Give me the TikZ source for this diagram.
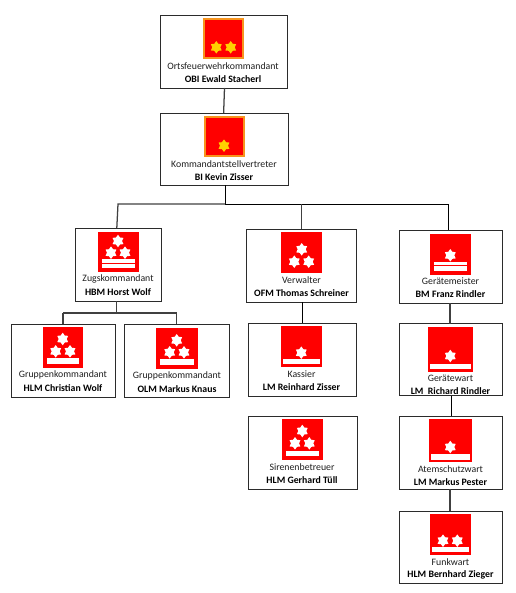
\documentclass[tikz,border=0pt]{standalone}
\usepackage{fontspec}
\setmainfont{Carlito}
\usetikzlibrary{shapes.geometric}
\definecolor{rangred}{HTML}{FF0000}
\definecolor{rangorange}{HTML}{F7941D}
\definecolor{ranggold}{HTML}{FFD000}
\definecolor{boxline}{HTML}{2B2B2B}
\definecolor{stemgray}{HTML}{404040}
\tikzset{
  x=0.75pt,y=-0.75pt,
  orgbox/.style={draw=boxline,line width=0.75pt,fill=white,inner sep=0pt,outer sep=0pt},
  rangbadge/.style={fill=rangred,inner sep=0pt,outer sep=0pt},
  goldbadge/.style={fill=rangred,draw=rangorange,line width=1.1pt,inner sep=0pt,outer sep=0pt},
  rangstar/.style={star,star points=6,star point ratio=1.55,fill=white,inner sep=0pt,outer sep=0pt,minimum size=9.4pt},
  goldstar/.style={rangstar,fill=ranggold},
  rangbar/.style={fill=white,inner sep=0pt,outer sep=0pt},
  funktion/.style={text=black!88,font=\fontsize{7.35}{9}\selectfont,inner sep=0pt},
  rangname/.style={text=black,font=\fontsize{7.35}{9}\selectfont\bfseries,inner sep=0pt},
  stemA/.style={draw=stemgray,line width=0.95pt},
  stemB/.style={draw=black,line width=0.7pt},
}
% name, x1, y1, x2, y2
\newcommand{\orgbox}[5]{\node[orgbox,minimum width=#4pt*0.75-#2pt*0.75,minimum height=#5pt*0.75-#3pt*0.75] (#1) at ({(#2+#4)/2},{(#3+#5)/2}) {};}
\newcommand{\badge}[6][rangbadge]{\node[#1,minimum width=#5pt*0.75-#3pt*0.75,minimum height=#6pt*0.75-#4pt*0.75] (#2) at ({(#3+#5)/2},{(#4+#6)/2}) {};}
\newcommand{\barr}[5]{\node[rangbar,minimum width=#4pt*0.75-#2pt*0.75,minimum height=#5pt*0.75-#3pt*0.75] (#1) at ({(#2+#4)/2},{(#3+#5)/2}) {};}
\newcommand{\sstar}[4][rangstar]{\node[#1] (#2) at (#3,#4) {};}
\newcommand{\labels}[6]{\node[funktion] (#1f) at (#2,#3) {#4}; \node[rangname] (#1n) at (#2,#5) {#6};}
\begin{document}
\begin{tikzpicture}
\useasboundingbox (0,0) rectangle (516,593);
% boxes
\orgbox{obi}{160}{15}{287}{88}
\orgbox{bi}{160.5}{113}{288}{185}
\orgbox{zug}{75}{228}{161}{301}
\orgbox{gra}{11}{324}{115}{397}
\orgbox{grb}{124.5}{324}{229}{397}
\orgbox{ver}{246}{229}{356}{302}
\orgbox{kas}{248}{323}{356}{396}
\orgbox{sir}{248.5}{416}{357}{489}
\orgbox{gme}{399}{230}{502}{303}
\orgbox{gwa}{399}{323.5}{502}{395.5}
\orgbox{atm}{399}{416}{502}{489}
\orgbox{fun}{399}{511}{502}{583}
% connectors
\coordinate (bus) at (225.3,204);
\coordinate (zugbus) at (116.8,313);
\draw[stemA] ([xshift=0.75pt]obi.south) -- ([xshift=0.1pt]obi.south |- bi.north);
\draw[stemB] (bus |- bi.south) -- (bus);
\draw[stemA] (bus) -- (bus -| zug.north) -- ([xshift=-0.9pt]zug.north);
\draw[stemB] (bus) -- (448,204) coordinate (busr) -- (busr |- gme.north);
\draw[stemA] (301.3,204) coordinate (busv) -- (busv |- ver.north);
\draw[stemA] (zugbus |- zug.south) -- (zugbus);
\draw[stemA] (zugbus -| gra.north) -- (zugbus -| grb.north);
\draw[stemA] (zugbus -| gra.north) -- (gra.north);
\draw[stemA] (zugbus -| grb.north) -- (grb.north);
\draw[stemB] ([xshift=0.4pt]ver.south -| kas.north) -- ([xshift=0.4pt]kas.north);
\draw[stemA] ([xshift=-0.3pt]gme.south) -- ([xshift=-0.3pt]gwa.north);
\draw[stemB] ([xshift=0.4pt]gwa.south) -- ([xshift=0.4pt]atm.north);
\draw[stemA] ([xshift=-0.3pt]atm.south) -- ([xshift=-0.3pt]fun.north);
% badges
\badge[goldbadge]{bobi}{204}{19}{243}{58}
\sstar[goldstar]{bobia}{216.3}{47.3}
\sstar[goldstar]{bobib}{230.7}{47.3}
\badge[goldbadge]{bbi}{205}{117}{244}{156}
\sstar[goldstar]{bbia}{224}{145.7}
%
\badge{bzug}{98}{232}{139}{272}
\sstar{bzuga}{118}{241}
\sstar{bzugb}{111}{252.7}
\sstar{bzugc}{125}{252.7}
\barr{bzugd}{101.7}{258.7}{135}{262.8}
\barr{bzuge}{101.7}{263.8}{135}{267.7}
%
\badge{bgra}{43}{327}{83}{368}
\sstar{bgraa}{62.7}{339}
\sstar{bgrab}{55.7}{351.3}
\sstar{bgrac}{70}{351.3}
\barr{bgrad}{47}{358.3}{79}{363.7}
%
\badge{bgrb}{156}{328}{198}{369}
\sstar{bgrba}{176.7}{340.3}
\sstar{bgrbb}{169.7}{352.3}
\sstar{bgrbc}{184}{352.3}
\barr{bgrbd}{160.3}{359.3}{194}{364.7}
%
\badge{bver}{281}{232}{322}{273}
\sstar{bvera}{301.7}{249.3}
\sstar{bverb}{294.3}{261.7}
\sstar{bverc}{308.7}{261.7}
%
\badge{bkas}{281}{326}{322}{367}
\sstar{bkasa}{301.3}{352.7}
\barr{bkasb}{283.3}{359.3}{320}{364.3}
%
\badge{bsir}{282}{419}{323}{460}
\sstar{bsira}{302.3}{431}
\sstar{bsirb}{295}{443.3}
\sstar{bsirc}{309.3}{443.3}
\barr{bsird}{286}{450.7}{318.7}{455.7}
%
\badge{bgme}{430}{234}{471}{275}
\sstar{bgmea}{450.3}{255.3}
\barr{bgmeb}{434}{262.3}{466.7}{264.7}
\barr{bgmec}{434}{265.6}{466.7}{270.7}
%
\badge{bgwa}{428}{327}{473}{372}
\sstar{bgwaa}{450.3}{356}
\barr{bgwab}{430}{363.7}{471}{369.3}
%
\badge{batm}{429}{419}{472}{462}
\sstar{batma}{450.3}{447}
\barr{batmb}{430.7}{454}{470.3}{459.7}
%
\badge{bfun}{430}{514}{471}{555}
\sstar{bfuna}{443}{540.7}
\sstar{bfunb}{457.3}{540.7}
\barr{bfunc}{432}{547.3}{469.3}{552.3}
% texts
\labels{tobi}{223}{66}{Ortsfeuerwehrkommandant}{79}{OBI Ewald Stacherl}
\labels{tbi}{224}{164}{Kommandantstellvertreter}{177}{BI Kevin Zisser}
\labels{tzug}{118}{278.7}{Zugskommandant}{292}{HBM Horst Wolf}
\labels{tgra}{63}{375}{Gruppenkommandant}{387.7}{HLM Christian Wolf}
\labels{tgrb}{177}{376}{Gruppenkommandant}{389}{OLM Markus Knaus}
\labels{tver}{301.5}{280}{Verwalter}{293}{OFM Thomas Schreiner}
\labels{tkas}{301.5}{374}{Kassier}{387}{LM Reinhard Zisser}
\labels{tsir}{302}{467}{Sirenenbetreuer}{480}{HLM Gerhard Tüll}
\labels{tgme}{450.5}{281}{Gerätemeister}{294}{BM Franz Rindler}
\node[funktion] (tgwaf) at (450.5,378.7) {Gerätewart};
\begin{scope}
\clip (400,380) rectangle (501,393);
\node[rangname] (tgwan) at (450.5,391) {LM\ \ Richard Rindler};
\end{scope}
\labels{tatm}{450.5}{469}{Atemschutzwart}{482}{LM Markus Pester}
\labels{tfun}{450.5}{562}{Funkwart}{575}{HLM Bernhard Zieger}
\end{tikzpicture}
\end{document}
